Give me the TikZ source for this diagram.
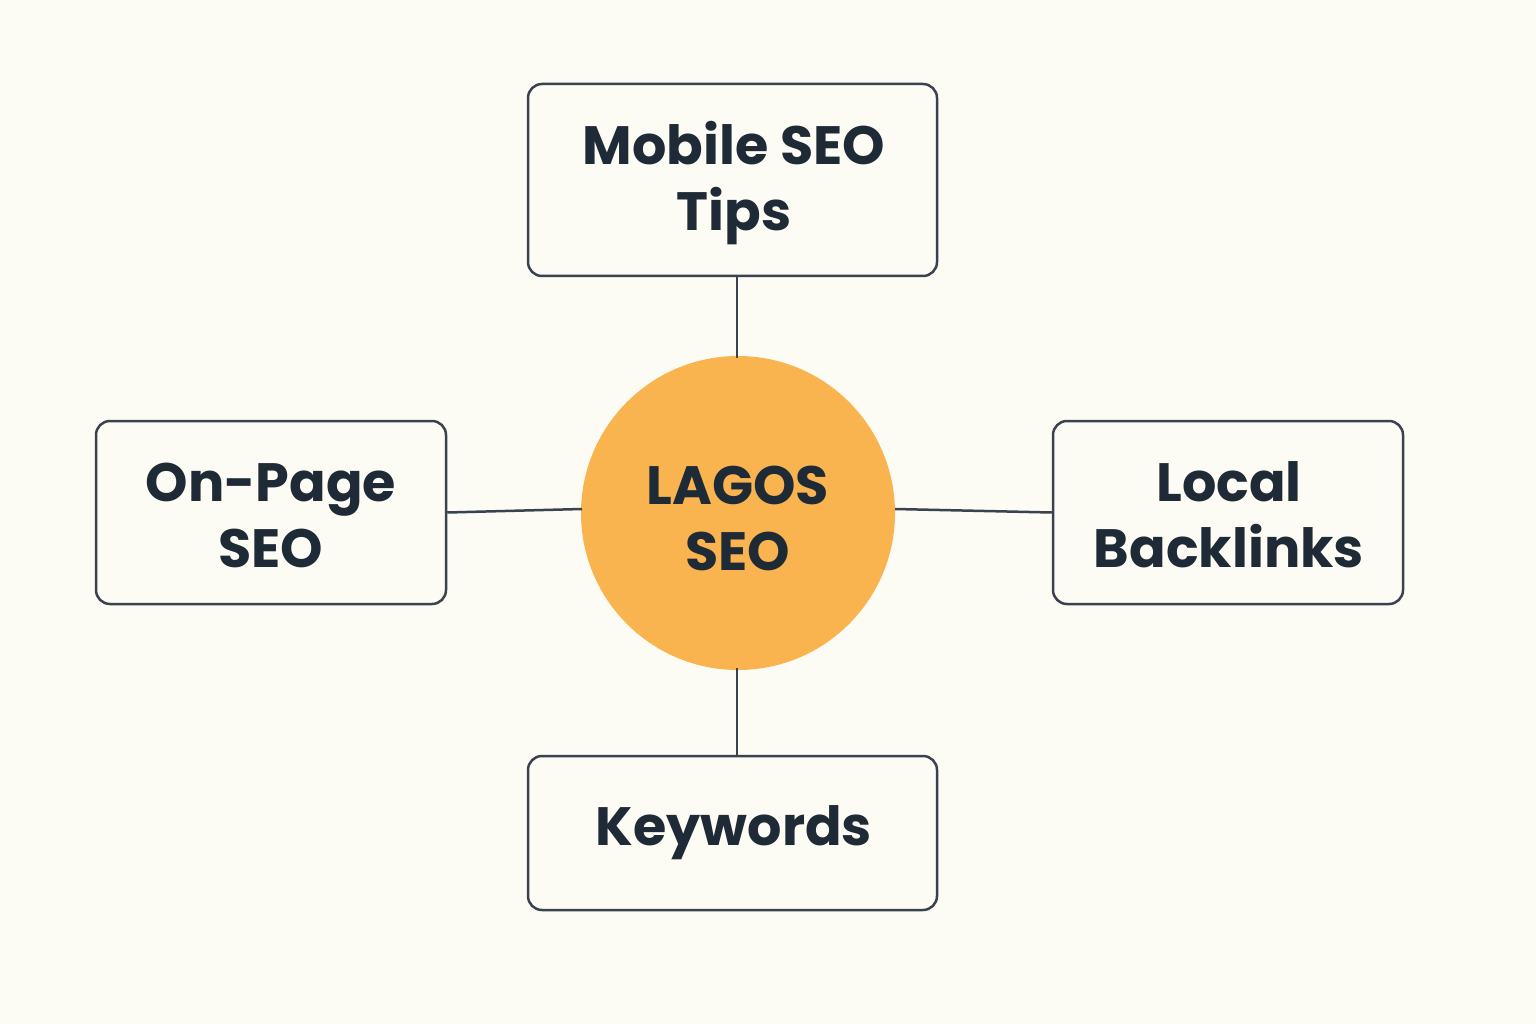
\documentclass[tikz,border=0pt]{standalone}
\usepackage{fontspec}
\setmainfont{Poppins}
\definecolor{bg}{HTML}{FDFCF4}
\definecolor{ink}{HTML}{1F2A37}
\definecolor{edge}{HTML}{3A4250}
\definecolor{orng}{HTML}{F9B450}
\begin{document}
\begin{tikzpicture}[x=1pt,y=-1pt,
  box/.style={draw=edge,line width=2.5pt,rounded corners=14pt,fill=bg,inner sep=0pt},
  lbl/.style={text=ink,font=\fontsize{54}{66}\selectfont\bfseries,align=center},
  conn/.style={draw=edge,line width=2.5pt}]
\fill[bg] (0,0) rectangle (1536,1024);
\useasboundingbox (0,0) rectangle (1536,1024);
\node[circle,fill=orng,minimum size=314pt,inner sep=0pt] (c) at (738,513) {};
\node[lbl] (ct) at (738,518) {LAGOS\\SEO};
\node[box,minimum width=409pt,minimum height=192pt] (t) at (732.5,180) {};
\node[lbl] at (734,183) {Mobile SEO\\Tips};
\node[box,minimum width=350pt,minimum height=183pt] (l) at (271,512.5) {};
\node[lbl] at (271,515) {On-Page\\SEO};
\node[box,minimum width=350pt,minimum height=183pt] (r) at (1228,512.5) {};
\node[lbl] at (1229,515) {Local\\Backlinks};
\node[box,minimum width=409pt,minimum height=154pt] (b) at (732.5,833) {};
\node[lbl] at (734,833) {Keywords};
\draw[conn] (t.south -| 737,0) -- (737,358);
\draw[conn] (737,668) -- (b.north -| 737,0);
\draw[conn] (l.east) -- (582,509);
\draw[conn] (895,509) -- (r.west);
\end{tikzpicture}
\end{document}
